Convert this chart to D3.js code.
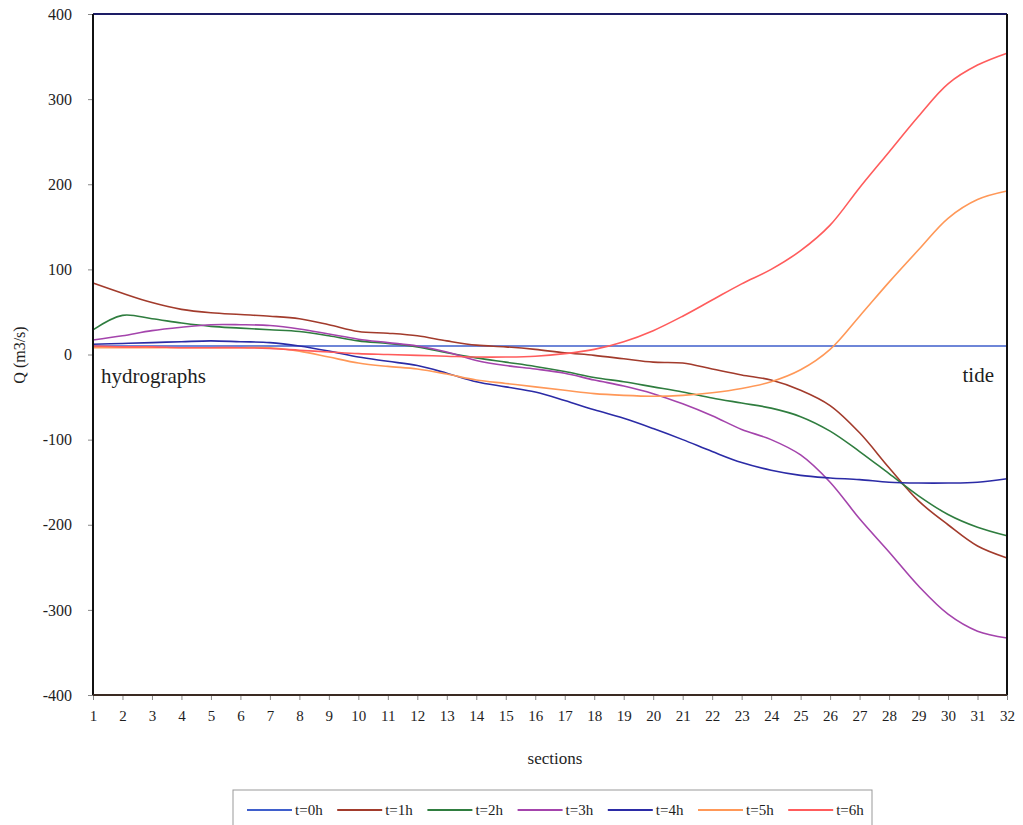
<!DOCTYPE html>
<html>
<head>
<meta charset="utf-8">
<script src="https://cdn.jsdelivr.net/npm/d3@7"></script>
<style>
  body { margin: 0; background: #fff; }
  text { font-family: "Liberation Serif", "DejaVu Serif", serif; fill: #1e1e1e; }
</style>
</head>
<body>
<svg id="misvg"></svg>
<script>
const sections = d3.range(1, 33);
const yTicks = [-400, -300, -200, -100, 0, 100, 200, 300, 400];
const seriesNames = ["t=0h", "t=1h", "t=2h", "t=3h", "t=4h", "t=5h", "t=6h"];
const seriesColors = ["#3f5fcc", "#a23b2c", "#2f7d3f", "#a444ac", "#2b2ba6", "#ff9858", "#ff5c5c"];

const t0 = [10,10,10,10,10,10,10,10,10,10,10,10,10,10,10,10,10,10,10,10,10,10,10,10,10,10,10,10,10,10,10,10];
const t1 = [84,72,61,53,49,47,45,42,35,27,25,22,16,11,9,6,2,-1,-5,-9,-10,-17,-24,-30,-42,-60,-92,-133,-172,-200,-225,-239];
const t2 = [29,46,42,37,33,31,29,27,22,16,13,9,2,-4,-9,-14,-20,-27,-32,-38,-44,-51,-57,-63,-73,-90,-114,-140,-166,-188,-203,-213];
const t3 = [17,22,28,32,35,35,34,30,24,18,14,10,3,-7,-13,-17,-22,-30,-37,-46,-58,-72,-88,-100,-118,-150,-193,-232,-272,-305,-325,-333];
const t4 = [12,13,14,15,16,15,14,10,4,-3,-8,-13,-22,-32,-38,-44,-54,-65,-75,-87,-100,-114,-127,-136,-142,-145,-147,-150,-151,-151,-150,-146];
const t5 = [8,8,8,8,8,8,8,4,-3,-10,-14,-17,-23,-30,-34,-38,-42,-46,-48,-49,-48,-45,-40,-32,-18,6,45,85,123,160,182,192];
const t6 = [10,9,9,8,8,8,7,5,3,1,0,-1,-2,-3,-3,-2,1,6,15,28,45,64,83,100,122,152,196,238,280,318,340,354];
const seriesValues = [t0, t1, t2, t3, t4, t5, t6];

const W = 1023, H = 825;
const svg = d3.select("#misvg").attr("width", W).attr("height", H);

const margin = { left: 93, right: 1007, top: 14, bottom: 695 };

const x = d3.scaleLinear().domain([1, 32]).range([margin.left, margin.right]);
const y = d3.scaleLinear().domain([-400, 400]).range([margin.bottom, margin.top]);

// axes (plain hyphen for negatives, like the original)
const xAxis = svg.append("g")
  .attr("transform", "translate(0," + margin.bottom + ")")
  .call(d3.axisBottom(x).tickValues(sections).tickFormat(d => String(d)).tickSize(5).tickPadding(10));
xAxis.select(".domain").remove();
xAxis.selectAll("line").attr("stroke", "#888");
xAxis.selectAll("text").style("font-size", "15px").attr("fill", "#1e1e1e");

const yAxis = svg.append("g")
  .attr("transform", "translate(" + margin.left + ",0)")
  .call(d3.axisLeft(y).tickValues(yTicks).tickFormat(d => String(d)).tickSize(5).tickPadding(16));
yAxis.select(".domain").remove();
yAxis.selectAll("line").attr("stroke", "#888");
yAxis.selectAll("text").style("font-size", "16px").attr("fill", "#1e1e1e");

// lines
const line = d3.line()
  .x((d, i) => x(sections[i]))
  .y(d => y(d))
  .curve(d3.curveCatmullRom.alpha(0.5));

svg.append("g").selectAll("path")
  .data(seriesValues)
  .enter().append("path")
  .attr("d", line)
  .attr("fill", "none")
  .attr("stroke", (d, i) => seriesColors[i])
  .attr("stroke-width", 1.6);

// frame
svg.append("line").attr("x1", margin.left).attr("x2", margin.right).attr("y1", margin.top).attr("y2", margin.top)
  .attr("stroke", "#1d1d66").attr("stroke-width", 2);
svg.append("line").attr("x1", margin.left).attr("x2", margin.left).attr("y1", margin.top).attr("y2", margin.bottom)
  .attr("stroke", "#111").attr("stroke-width", 2);
svg.append("line").attr("x1", margin.right).attr("x2", margin.right).attr("y1", margin.top).attr("y2", margin.bottom)
  .attr("stroke", "#111").attr("stroke-width", 2);
svg.append("line").attr("x1", margin.left).attr("x2", margin.right).attr("y1", margin.bottom).attr("y2", margin.bottom)
  .attr("stroke", "#3a2a22").attr("stroke-width", 2);

// annotations
svg.append("text").attr("x", 101).attr("y", 383)
  .style("font-size", "21px").text("hydrographs");
svg.append("text").attr("x", 994).attr("y", 382).attr("text-anchor", "end")
  .style("font-size", "21px").text("tide");

// axis titles
svg.append("text").attr("x", 555).attr("y", 764).attr("text-anchor", "middle")
  .style("font-size", "17px").text("sections");
svg.append("text")
  .attr("transform", "translate(25,355) rotate(-90)")
  .attr("text-anchor", "middle")
  .style("font-size", "16px").text("Q (m3/s)");

// legend
const legend = svg.append("g");
legend.append("rect")
  .attr("x", 233).attr("y", 790).attr("width", 639).attr("height", 45)
  .attr("fill", "#fff").attr("stroke", "#999").attr("stroke-width", 1);

const item = legend.selectAll(".item")
  .data(seriesNames)
  .enter().append("g")
  .attr("class", "item")
  .attr("transform", (d, i) => "translate(" + (247 + i * 90.2) + ",810)");
item.append("line")
  .attr("x1", 0).attr("x2", 45).attr("y1", 0).attr("y2", 0)
  .attr("stroke", (d, i) => seriesColors[i]).attr("stroke-width", 2);
item.append("text")
  .attr("x", 48).attr("y", 5)
  .style("font-size", "15px").text(d => d);
</script>
</body>
</html>
